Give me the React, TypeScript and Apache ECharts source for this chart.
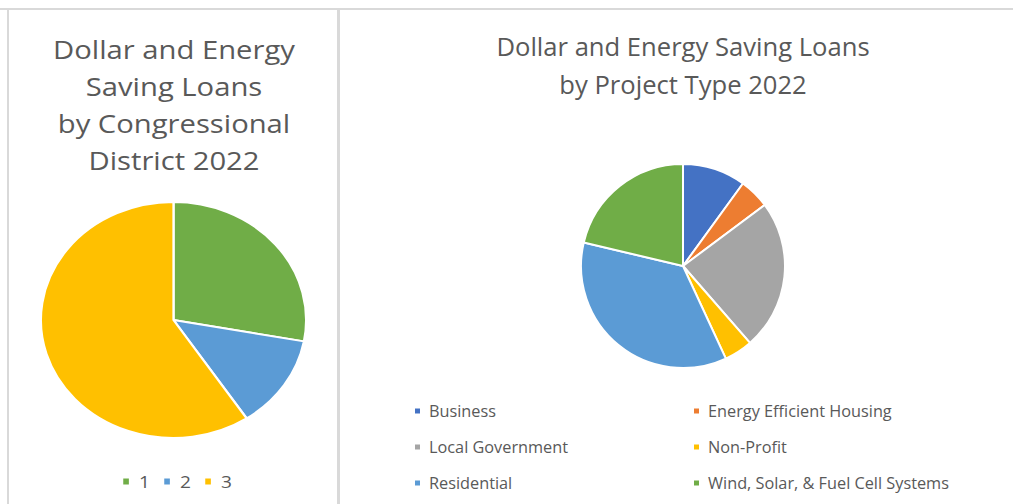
import React, { useEffect, useRef } from "react";
import * as echarts from "echarts";

const districtNames = ["1", "2", "3"];
const districtValues = [27.9, 12.8, 59.3];
const districtColors = ["#70AD47", "#5B9BD5", "#FFC000"];

const projectNames = [
  "Business",
  "Energy Efficient Housing",
  "Local Government",
  "Non-Profit",
  "Residential",
  "Wind, Solar, & Fuel Cell Systems",
];
const projectValues = [10.0, 4.8, 23.8, 4.5, 35.6, 21.3];
const projectColors = ["#4472C4", "#ED7D31", "#A5A5A5", "#FFC000", "#5B9BD5", "#70AD47"];

const leftTitle = "Dollar and Energy\nSaving Loans\nby Congressional\nDistrict 2022";
const rightTitle = "Dollar and Energy Saving Loans\nby Project Type 2022";

const FONT = "'Open Sans', Lato, sans-serif";
const TEXT = "#595959";
const BORDER = "#D9D9D9";
const SX = 1.124; // horizontal stretch of the left panel in the reference

export default function App() {
  const mainRef = useRef<HTMLDivElement>(null);
  const leftRef = useRef<HTMLDivElement>(null);
  useEffect(() => {
    if (!mainRef.current || !leftRef.current) return;
    const chart = echarts.init(mainRef.current, null, { renderer: "svg" });
    const left = echarts.init(leftRef.current, null, { renderer: "svg" });

    const rightLegendPos = [
      [413, 403],
      [692, 403],
      [413, 439],
      [692, 439],
      [413, 475],
      [692, 475],
    ];
    const rightLegends = projectNames.map((n, i) => ({
      data: [n],
      left: rightLegendPos[i][0],
      top: rightLegendPos[i][1],
      padding: 0,
      icon: "rect",
      itemWidth: 7,
      itemHeight: 7,
      selectedMode: false,
      textStyle: { color: TEXT, fontSize: 16.3, fontFamily: FONT, lineHeight: 16, padding: [0, 0, 0, 3] },
    }));

    chart.setOption({
      animation: false,
      backgroundColor: "#FFFFFF",
      legend: rightLegends,
      graphic: [
        { type: "rect", shape: { x: 0, y: 8, width: 1013, height: 2 }, style: { fill: BORDER }, silent: true },
        { type: "rect", shape: { x: 7, y: 8, width: 2, height: 496 }, style: { fill: BORDER }, silent: true },
        { type: "rect", shape: { x: 337, y: 8, width: 3, height: 496 }, style: { fill: BORDER }, silent: true },
        {
          type: "text",
          x: 683,
          y: 27,
          style: {
            text: rightTitle,
            align: "center",
            verticalAlign: "top",
            font: `25.6px ${FONT}`,
            lineHeight: 38,
            fill: TEXT,
          },
          silent: true,
        },
      ],
      series: [
        {
          type: "pie",
          center: [683, 266],
          radius: [0, 102],
          startAngle: 90,
          clockwise: true,
          label: { show: false },
          labelLine: { show: false },
          emphasis: { disabled: true },
          itemStyle: { borderColor: "#FFFFFF", borderWidth: 2 },
          data: projectNames.map((n, i) => ({
            name: n,
            value: projectValues[i],
            itemStyle: { color: projectColors[i] },
          })),
        },
      ],
    });

    const lx = (x: number) => (x - 10) / SX;
    const leftLegendX = [121, 162, 203];
    left.setOption({
      animation: false,
      legend: districtNames.map((n, i) => ({
        data: [n],
        left: lx(leftLegendX[i]),
        top: 473,
        padding: 0,
        icon: "rect",
        itemWidth: 7,
        itemHeight: 8,
        selectedMode: false,
        textStyle: { color: TEXT, fontSize: 17, fontFamily: FONT, lineHeight: 17, padding: [0, 0, 0, 3] },
      })),
      graphic: [
        {
          type: "text",
          x: lx(174),
          y: 30,
          style: {
            text: leftTitle,
            align: "center",
            verticalAlign: "top",
            font: `26px ${FONT}`,
            lineHeight: 37,
            fill: TEXT,
          },
          silent: true,
        },
      ],
      series: [
        {
          type: "pie",
          center: [lx(173.5), 320],
          radius: [0, 118],
          startAngle: 90,
          clockwise: true,
          label: { show: false },
          labelLine: { show: false },
          emphasis: { disabled: true },
          itemStyle: { borderColor: "#FFFFFF", borderWidth: 2 },
          data: districtNames.map((n, i) => ({
            name: n,
            value: districtValues[i],
            itemStyle: { color: districtColors[i] },
          })),
        },
      ],
    });

    return () => {
      left.dispose();
      chart.dispose();
    };
  }, []);
  return (
    <div>
      <div
        ref={mainRef}
        style={{ position: "fixed", left: 0, top: 0, width: 1013, height: 504 }}
      />
      <div
        ref={leftRef}
        style={{
          position: "fixed",
          left: 10,
          top: 0,
          width: 290,
          height: 504,
          transform: `scaleX(${SX})`,
          transformOrigin: "0 0",
        }}
      />
    </div>
  );
}
